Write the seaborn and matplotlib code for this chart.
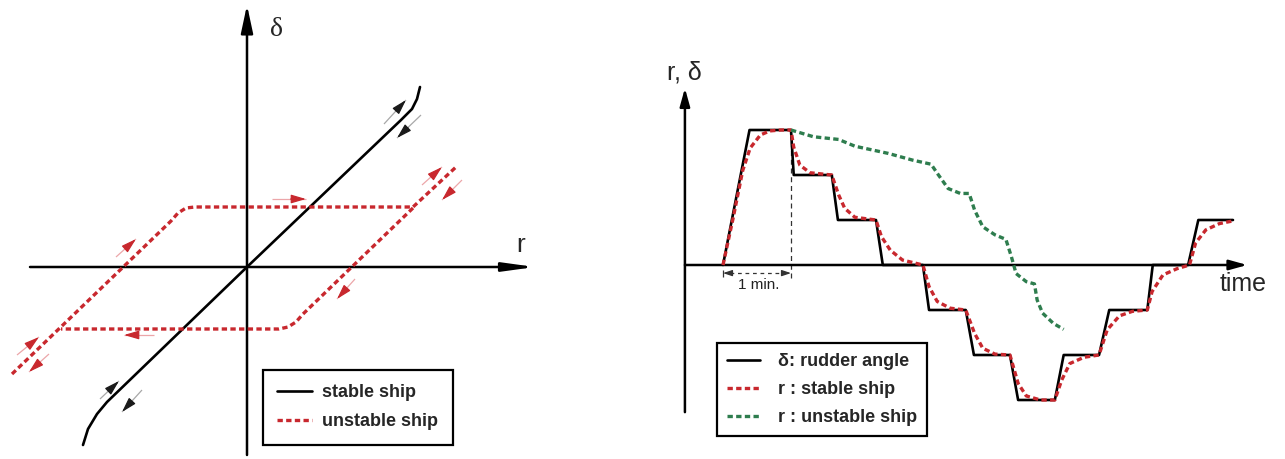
import matplotlib
matplotlib.use("Agg")
import matplotlib.pyplot as plt
import pandas as pd
import seaborn as sns

sns.set_theme(style="white")
plt.rcParams['font.family'] = ['Liberation Sans', 'DejaVu Sans']

RED = '#c8282e'
GREEN = '#2e7d4e'
RED_TAIL = '#eca6a9'
GREY_TAIL = '#a8a8a8'

# ---------------- left panel: delta versus r ----------------
stable_r = [-1.64, -1.59, -1.50, -1.40, 0.00, 1.54, 1.65, 1.70, 1.73]
stable_delta = [-1.78, -1.62, -1.47, -1.35, 0.00, 1.47, 1.58, 1.68, 1.80]

# unstable ship: upper branch (left diagonal, top plateau, right diagonal end)
unstable_upper_r = [-2.35, -0.76, -0.69, -0.61, -0.52, 1.66, 2.09]
unstable_upper_delta = [-1.07, 0.46, 0.54, 0.59, 0.60, 0.60, 1.00]
# unstable ship: lower branch (right diagonal down, bottom plateau)
unstable_lower_r = [1.66, 0.56, 0.49, 0.41, 0.32, -1.86]
unstable_lower_delta = [0.59, -0.47, -0.55, -0.60, -0.62, -0.62]

# direction arrows along the curves: (tail, head)
stable_arrows = [((1.37, 1.43), (1.59, 1.67)), ((1.74, 1.52), (1.50, 1.29)),
                 ((-1.47, -1.32), (-1.28, -1.14)), ((-1.05, -1.23), (-1.25, -1.45))]
unstable_arrows = [((0.25, 0.68), (0.59, 0.68)), ((-0.93, -0.68), (-1.23, -0.68)),
                   ((-1.31, 0.10), (-1.11, 0.28)), ((1.08, -0.12), (0.90, -0.32)),
                   ((1.75, 0.82), (1.95, 1.00)), ((2.15, 0.87), (1.95, 0.67)),
                   ((-2.30, -0.88), (-2.08, -0.70)), ((-1.98, -0.87), (-2.18, -1.05))]

# ---------------- right panel: time histories ----------------
rudder_t = [0.00, 0.39, 1.00, 1.04, 1.60, 1.69, 2.25, 2.35, 2.94, 3.03, 3.57, 3.69,
            4.22, 4.34, 4.88, 5.01, 5.53, 5.68, 6.24, 6.32, 6.84, 6.99, 7.50]
rudder_delta = [0, 3, 3, 2, 2, 1, 1, 0, 0, -1, -1, -2, -2, -3, -3, -2, -2, -1, -1,
                0, 0, 1, 1]

stable_t = [0.00, 0.15, 0.29, 0.40, 0.55, 0.69, 0.85, 1.00, 1.04, 1.13, 1.28, 1.60,
            1.70, 1.79, 1.94, 2.25, 2.33, 2.46, 2.64, 2.94, 3.03, 3.15, 3.34, 3.57,
            3.70, 3.82, 4.00, 4.22, 4.34, 4.46, 4.67, 4.88, 4.98, 5.10, 5.31, 5.53,
            5.65, 5.83, 6.02, 6.24, 6.31, 6.47, 6.68, 6.86, 6.95, 7.10, 7.30, 7.50]
stable_rate = [0.00, 1.05, 2.10, 2.60, 2.89, 2.98, 3.00, 3.00, 2.62, 2.22, 2.05, 2.00,
               1.56, 1.26, 1.06, 1.00, 0.63, 0.33, 0.11, 0.00, -0.48, -0.81, -0.96, -1.00,
               -1.52, -1.85, -1.98, -2.00, -2.63, -2.91, -3.00, -3.00, -2.56, -2.19, -2.05, -2.00,
               -1.44, -1.13, -1.03, -1.00, -0.59, -0.22, -0.08, 0.00, 0.49, 0.78, 0.92, 0.98]

unstable_t = [1.00, 1.33, 1.70, 1.94, 2.43, 2.79, 3.06, 3.15, 3.31, 3.49, 3.62, 3.70,
              3.82, 4.00, 4.16, 4.24, 4.31, 4.46, 4.58, 4.62, 4.70, 4.86, 5.01]
unstable_rate = [3.00, 2.85, 2.79, 2.64, 2.48, 2.33, 2.24, 2.04, 1.70, 1.59, 1.59, 1.22,
                 0.85, 0.67, 0.57, 0.19, -0.19, -0.37, -0.42, -0.78, -1.07, -1.30, -1.43]

DASH = (0, (1.6, 1.0))
LEGEND_FONT = {'family': 'Liberation Sans', 'weight': 'bold', 'size': 13}


def axis_arrow(ax, start, end, hl, hw, lw=1.8):
    ax.annotate('', xy=end, xytext=start,
                arrowprops=dict(arrowstyle=f'-|>,head_length={hl},head_width={hw}',
                                color='black', lw=lw, shrinkA=0, shrinkB=0))


def direction_arrow(ax, tail, head, color, tail_color):
    ax.plot([tail[0], head[0]], [tail[1], head[1]], color=tail_color, lw=0.9,
            solid_capstyle='butt', zorder=4)
    mid = (tail[0] + 0.55 * (head[0] - tail[0]), tail[1] + 0.55 * (head[1] - tail[1]))
    ax.annotate('', xy=head, xytext=mid,
                arrowprops=dict(arrowstyle='-|>,head_length=0.75,head_width=0.22',
                                color=color, lw=0.9, shrinkA=0, shrinkB=0), zorder=5)


fig = plt.figure(figsize=(12.85, 4.59), dpi=100)
axL = fig.add_axes([0, 0, 0.5, 1])
axR = fig.add_axes([0.5, 0, 0.5, 1])

# ---- left panel ----
axis_arrow(axL, (0, -1.88), (0, 2.62), 1.4, 0.3)
axis_arrow(axL, (-2.17, 0), (2.88, 0), 1.6, 0.22)

sns.lineplot(x=stable_r, y=stable_delta, ax=axL, sort=False, color='black',
             lw=1.9, label='stable ship', zorder=3)
sns.lineplot(x=unstable_upper_r, y=unstable_upper_delta, ax=axL, sort=False,
             color=RED, lw=2.4, linestyle=DASH, label='unstable ship', zorder=3)
sns.lineplot(x=unstable_lower_r, y=unstable_lower_delta, ax=axL, sort=False,
             color=RED, lw=2.4, linestyle=DASH, zorder=3)

for tail, head in stable_arrows:
    direction_arrow(axL, tail, head, '#1a1a1a', GREY_TAIL)
for tail, head in unstable_arrows:
    direction_arrow(axL, tail, head, RED, RED_TAIL)

axL.text(0.30, 2.37, 'δ', fontsize=20, family='Liberation Serif', ha='center', va='center')
axL.text(2.74, 0.22, 'r', fontsize=19, ha='center', va='center')

legL = axL.legend(loc='upper left', bbox_to_anchor=(0.409, 0.194), borderaxespad=0,
                  frameon=True, fancybox=False, edgecolor='black', framealpha=1,
                  prop=LEGEND_FONT, handlelength=1.9, handletextpad=0.6,
                  labelspacing=0.67, borderpad=0.8)
legL.get_frame().set_linewidth(1.6)

axL.set_xlim(-2.47, 3.955)
axL.set_ylim(-1.92, 2.67)
axL.set_axis_off()

# ---- right panel ----
axis_arrow(axR, (-0.56, -3.27), (-0.56, 3.93), 0.9, 0.25)
axis_arrow(axR, (-0.56, 0), (7.71, 0), 0.9, 0.25)

sns.lineplot(x=rudder_t, y=rudder_delta, ax=axR, sort=False, color='black', lw=1.9,
             label='δ: rudder angle', zorder=3)
sns.lineplot(x=stable_t, y=stable_rate, ax=axR, sort=False, color=RED, lw=2.4,
             linestyle=DASH, label='r : stable ship', zorder=4)
sns.lineplot(x=unstable_t, y=unstable_rate, ax=axR, sort=False, color=GREEN, lw=2.4,
             linestyle=DASH, label='r : unstable ship', zorder=4)

# one-minute scale
axR.vlines(1.0, -0.29, 3.0, color='#333333', lw=0.9, linestyles=(0, (4, 3)), zorder=2)
axR.vlines(0.0, -0.26, -0.10, color='#333333', lw=0.9)
axR.hlines(-0.18, 0.10, 0.90, color='#333333', lw=0.9, linestyles=(0, (3, 3)))
for end, start in (((0.0, -0.18), (0.12, -0.18)), ((1.0, -0.18), (0.88, -0.18))):
    axR.annotate('', xy=end, xytext=start,
                 arrowprops=dict(arrowstyle='-|>,head_length=0.45,head_width=0.15',
                                 color='#333333', lw=0.9, shrinkA=0, shrinkB=0))
axR.text(0.53, -0.44, '1 min.', fontsize=11, ha='center', va='center', color='#222222')

axR.text(7.31, -0.42, 'time', fontsize=18, ha='left', va='center')
axR.text(-0.82, 4.27, 'r, δ', fontsize=18, ha='left', va='center')

legR = axR.legend(loc='upper left', bbox_to_anchor=(0.116, 0.252), borderaxespad=0,
                  frameon=True, fancybox=False, edgecolor='black', framealpha=1,
                  prop=LEGEND_FONT, handlelength=1.85, handletextpad=0.95,
                  labelspacing=0.6, borderpad=0.55)
legR.get_frame().set_linewidth(1.6)

axR.set_xlim(-1.1838, 8.2647)
axR.set_ylim(-4.3111, 5.8889)
axR.set_axis_off()

fig.savefig('out.png', dpi=100)
